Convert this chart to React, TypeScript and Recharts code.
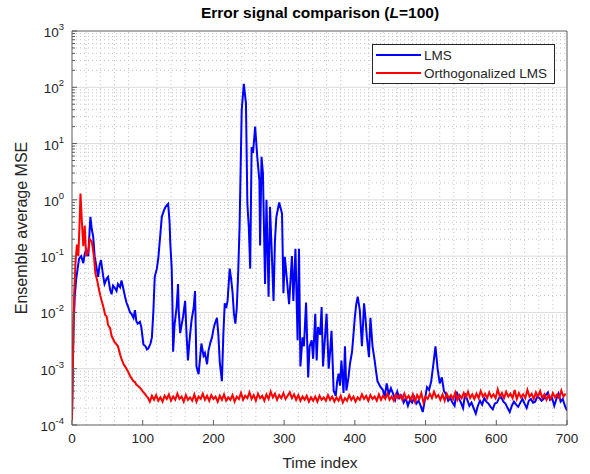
import React from 'react'
import { LineChart, Line, XAxis, YAxis, ReferenceLine } from 'recharts'

const W = 590
const H = 474
const AXIS = '#5c5c5c'
const TXT = '#262626'
const FONT = '"Liberation Sans", Arial, Helvetica, sans-serif'

// LMS: [time index, ensemble average MSE] up to t=440
const lmsPoints: [number, number][] = [
  [0, 1.5e-4], [2, 5e-3], [4, 0.02], [6, 0.04], [8, 0.06], [10, 0.09], [13, 0.1], [16, 0.075],
  [18, 0.11], [20, 0.13], [23, 0.1], [25, 0.3], [26, 0.5], [28, 0.3], [30, 0.22], [32, 0.1],
  [35, 0.06], [37, 0.043], [39, 0.07], [41, 0.085], [44, 0.045], [46, 0.032], [49, 0.04], [51, 0.043],
  [54, 0.025], [56, 0.021], [58, 0.03], [60, 0.028], [63, 0.024], [65, 0.032], [68, 0.028], [70, 0.037],
  [73, 0.025], [75, 0.019], [77, 0.015], [79, 0.013], [82, 0.01], [84, 0.0095], [87, 0.008], [89, 0.011],
  [91, 0.007], [93, 0.0063], [96, 0.0068], [98, 0.0055], [101, 0.0027], [104, 0.0025], [106, 0.0022],
  [108, 0.0023], [111, 0.0028], [113, 0.0036], [115, 0.01], [117, 0.043], [120, 0.06], [122, 0.09],
  [125, 0.25], [127, 0.5], [130, 0.65], [132, 0.74], [134, 0.8], [136, 0.85], [138, 0.4], [139, 0.17],
  [141, 0.06], [142, 0.015], [143, 0.002], [145, 0.006], [148, 0.0126], [150, 0.032], [151, 0.01],
  [153, 0.0043], [155, 0.006], [157, 0.0083], [160, 0.016], [162, 0.004], [164, 0.0014], [166, 0.003],
  [169, 0.0072], [172, 0.012], [174, 0.024], [176, 0.0011], [179, 0.0008], [181, 0.0015], [183, 0.0028],
  [186, 0.0017], [188, 0.0019], [191, 0.0012], [193, 0.0021], [196, 0.003], [198, 0.0036], [200, 0.005],
  [202, 0.0063], [205, 0.008], [207, 0.004], [209, 0.0013], [212, 0.0006], [214, 0.004], [216, 0.0145],
  [218, 0.012], [220, 0.016], [223, 0.06], [225, 0.04], [227, 0.023], [229, 0.0095], [231, 0.0063],
  [233, 0.012], [235, 0.05], [237, 0.35], [240, 40], [243, 115], [246, 52], [248, 0.85], [250, 0.33],
  [252, 0.06], [254, 8.7], [256, 6.8], [259, 20], [262, 5.8], [265, 2.2], [266, 0.155], [268, 5.8],
  [270, 3], [273, 0.032], [275, 1], [278, 0.019], [280, 0.75], [282, 0.17], [285, 0.016], [287, 0.19],
  [289, 0.5], [293, 0.9], [297, 0.57], [299, 0.022], [301, 0.097], [304, 0.037], [307, 0.014], [311, 0.1],
  [313, 0.016], [316, 0.135], [319, 0.0032], [321, 0.135], [323, 0.0011], [326, 0.0036], [328, 0.0025],
  [331, 0.015], [334, 0.0007], [336, 0.0025], [339, 0.0032], [341, 0.0015], [344, 0.0095], [346, 0.0014],
  [348, 0.0055], [351, 0.004], [353, 0.0125], [355, 0.0011], [358, 0.004], [360, 0.0095], [363, 0.001],
  [365, 0.002], [367, 0.0047], [370, 0.00041], [373, 0.00033], [375, 0.0006], [377, 0.00082], [379, 0.0005],
  [381, 0.0014], [384, 0.00037], [386, 0.0025], [388, 0.00041], [391, 0.0007], [393, 0.0012], [396, 0.002],
  [398, 0.004], [400, 0.0083], [402, 0.014], [404, 0.019], [407, 0.011], [410, 0.0025], [413, 0.0145],
  [415, 0.008], [417, 0.0036], [420, 0.0016], [422, 0.008], [425, 0.0025], [428, 0.0014], [430, 0.0009],
  [432, 0.0006], [436, 0.00048], [440, 0.00041],
]

// LMS steady-state samples (units of 1e-4), every 3rd index from t=442 to t=700
const lmsTailStart = 442
const lmsTailStep = 3
const lmsTailE4 = [
  3.0, 5.5, 3.5, 4.5, 3.6, 2.8, 3.9, 3.0, 3.3, 2.5,
  3.0, 2.2, 2.8, 2.5, 3.1, 2.4, 2.7, 2.2, 1.7, 2.8,
  4.7, 4.2, 6.0, 12, 25, 10, 5.5, 7.0, 4.0, 3.5,
  2.7, 3.0, 2.5, 2.2, 3.9, 3.0, 2.5, 2.0, 3.6, 2.8,
  2.2, 2.5, 2.0, 1.6, 2.2, 2.7, 2.3, 3.0, 2.6, 2.4,
  2.1, 1.9, 2.4, 2.5, 3.0, 3.1, 2.6, 2.4, 2.0, 1.7,
  2.2, 2.6, 2.3, 2.1, 2.5, 2.9, 2.4, 2.0, 2.7, 2.9,
  2.5, 2.6, 3.2, 3.0, 2.7, 2.9, 3.4, 3.8, 2.8, 3.0,
  2.2, 2.9, 3.6, 2.6, 2.9, 2.2, 1.8,
]

// Orthogonalized LMS: [time index, MSE] during convergence
const orthPoints: [number, number][] = [
  [0, 1.2e-4], [2, 0.004], [3, 0.02], [5, 0.08], [7, 0.16], [9, 0.1], [11, 0.5], [12, 1.3], [14, 0.4],
  [16, 0.15], [18, 0.35], [20, 0.1], [23, 0.12], [25, 0.2], [28, 0.18], [31, 0.1], [33, 0.05],
  [36, 0.035], [38, 0.026], [40, 0.02], [42, 0.016], [44, 0.013], [47, 0.009], [49, 0.0085], [51, 0.006],
  [54, 0.0052], [56, 0.0038], [58, 0.0034], [60, 0.003], [63, 0.0027], [65, 0.0025], [68, 0.0018],
  [70, 0.0015], [73, 0.0012], [75, 0.0011], [77, 0.001], [79, 0.0009], [82, 0.00075], [84, 0.00068],
  [87, 0.0006], [89, 0.00058], [91, 0.00052], [93, 0.0005], [96, 0.00046], [98, 0.00043], [101, 0.00038],
  [103, 0.00036], [105, 0.00033], [107, 0.00031],
]

// Orthogonalized LMS steady state (units of 1e-4), every 3rd index from t=110
const orthTailStart = 110
const orthTailStep = 3
const orthTailE4 = [
  2.6, 3.3, 2.8, 3.4, 2.7, 3.1, 2.6, 3.3, 2.9, 3.5,
  2.7, 3.2, 2.8, 3.6, 2.9, 3.2, 2.6, 3.4, 2.8, 3.1,
  2.7, 3.5, 2.6, 3.2, 2.9, 3.6, 2.8, 3.3, 2.7, 3.4,
  2.9, 3.2, 2.6, 3.3, 2.8, 3.5, 2.7, 3.1, 2.8, 3.4,
  2.6, 3.2, 2.9, 3.7, 2.8, 3.3, 3.0, 3.8, 2.9, 3.4,
  2.7, 3.6, 3.0, 3.3, 2.7, 3.5, 2.9, 3.9, 3.1, 3.6,
  2.8, 3.4, 3.0, 3.7, 2.9, 3.3, 3.8, 3.0, 3.5, 2.8,
  3.4, 2.7, 3.2, 2.8, 3.3, 2.6, 3.1, 2.7, 3.2, 2.6,
  3.3, 2.8, 3.1, 2.7, 3.4, 2.8, 3.2, 2.6, 3.1, 2.7,
  3.3, 2.5, 3.0, 2.7, 3.4, 2.8, 3.2, 2.6, 3.1, 2.8,
  3.5, 2.9, 3.3, 2.7, 3.4, 2.9, 3.2, 2.7, 3.5, 2.8,
  3.3, 2.9, 3.6, 2.8, 3.2, 2.7, 3.5, 3.0, 3.4, 2.8,
  3.6, 2.9, 3.3, 2.8, 3.5, 2.6, 3.4, 2.9, 3.7, 2.5,
  3.2, 2.9, 3.6, 3.0, 3.9, 3.1, 3.4, 2.8, 3.5, 2.7,
  3.6, 3.0, 3.4, 2.9, 3.8, 2.8, 3.4, 3.0, 3.7, 3.1,
  3.9, 3.0, 3.5, 2.9, 3.6, 3.0, 4.0, 3.2, 3.6, 3.0,
  3.8, 3.1, 3.5, 3.0, 4.3, 3.2, 3.7, 3.0, 3.9, 3.2,
  3.6, 3.0, 4.2, 2.9, 3.7, 3.1, 3.5, 3.0, 4.2, 3.2,
  3.6, 2.9, 3.8, 3.2, 4.0, 3.0, 3.5, 2.8, 3.4, 2.9,
  3.7, 3.1, 3.5, 3.0, 4.1, 3.2, 3.6,
]

const xTicks = [0, 100, 200, 300, 400, 500, 600, 700]
const yDecades = [1e-4, 1e-3, 1e-2, 1e-1, 1e0, 1e1, 1e2, 1e3]
const minorSteps = [2, 3, 4, 5, 6, 7, 8, 9]

const yMinor = yDecades.slice(0, -1).flatMap(d => minorSteps.map(m => m * d))
const yAllTicks = [...yDecades, ...yMinor].sort((a, b) => a - b)
const xMinor = Array.from({ length: 34 }, (_, i) => (i + 1) * 20).filter(v => v % 100 !== 0)

const lmsData = [
  ...lmsPoints.map(([t, v]) => ({ t, v })),
  ...lmsTailE4.map((v, i) => ({ t: lmsTailStart + i * lmsTailStep, v: v * 1e-4 })),
]
const orthData = [
  ...orthPoints.map(([t, v]) => ({ t, v })),
  ...orthTailE4.map((v, i) => ({ t: orthTailStart + i * orthTailStep, v: v * 1e-4 })),
]

const isDecade = (v: number) => Math.abs(Math.log10(v) - Math.round(Math.log10(v))) < 1e-6

function BottomTick({ x, y, payload }: any) {
  return (
    <g>
      <line x1={x} x2={x} y1={y} y2={y - 5} stroke={AXIS} />
      <text x={x} y={y + 18} textAnchor="middle" fontSize={13.5} fill={TXT} fontFamily={FONT}>
        {payload.value}
      </text>
    </g>
  )
}

function TopTick({ x, y }: any) {
  return <line x1={x} x2={x} y1={y} y2={y + 5} stroke={AXIS} />
}

function LeftTick({ x, y, payload }: any) {
  const v = payload.value
  const major = isDecade(v)
  return (
    <g>
      <line x1={x} x2={x + (major ? 5 : 3)} y1={y} y2={y} stroke={AXIS} />
      {major && (
        <text x={x - 8} y={y + 6} textAnchor="end" fontSize={13.5} fill={TXT} fontFamily={FONT}>
          10
          <tspan dy={-7} fontSize={9.5}>{Math.round(Math.log10(v))}</tspan>
        </text>
      )}
    </g>
  )
}

function RightTick({ x, y, payload }: any) {
  const major = isDecade(payload.value)
  return <line x1={x} x2={x - (major ? 5 : 3)} y1={y} y2={y} stroke={AXIS} />
}

export default function App() {
  return (
    <div style={{ position: 'absolute', left: 0, top: 0, width: W, height: H, background: '#fff', fontFamily: FONT }}>
      <LineChart width={W} height={H} margin={{ top: 30, right: 22, bottom: 19, left: 12 }}>
        <XAxis
          dataKey="t"
          type="number"
          domain={[0, 700]}
          ticks={xTicks}
          interval={0}
          allowDataOverflow
          height={30}
          tickSize={0}
          tickMargin={0}
          tick={BottomTick}
          axisLine={{ stroke: AXIS }}
        />
        <XAxis
          xAxisId="top"
          orientation="top"
          dataKey="t"
          type="number"
          domain={[0, 700]}
          ticks={xTicks}
          interval={0}
          height={1}
          tickSize={0}
          tickMargin={0}
          tick={TopTick}
          axisLine={{ stroke: AXIS }}
        />
        <YAxis
          scale="log"
          type="number"
          domain={[1e-4, 1e3]}
          ticks={yAllTicks}
          interval={0}
          allowDataOverflow
          width={60}
          tickSize={0}
          tickMargin={0}
          tick={LeftTick}
          axisLine={{ stroke: AXIS }}
        />
        <YAxis
          yAxisId="r"
          orientation="right"
          scale="log"
          type="number"
          domain={[1e-4, 1e3]}
          ticks={yAllTicks}
          interval={0}
          width={1}
          tickSize={0}
          tickMargin={0}
          tick={RightTick}
          axisLine={{ stroke: AXIS }}
        />
        {xMinor.map(v => (
          <ReferenceLine key={`xm${v}`} x={v} stroke="#c4c4c4" strokeDasharray="1 3" />
        ))}
        {yMinor.map(v => (
          <ReferenceLine key={`ym${v}`} y={v} stroke="#c4c4c4" strokeDasharray="1 3" />
        ))}
        {yDecades.slice(1, -1).map(v => (
          <ReferenceLine key={`yM${v}`} y={v} stroke="#dcdcdc" />
        ))}
        <Line data={lmsData} dataKey="v" stroke="#0000ff" strokeWidth={2} dot={false} isAnimationActive={false} />
        <Line data={orthData} dataKey="v" stroke="#ff0000" strokeWidth={2} dot={false} isAnimationActive={false} />
      </LineChart>
      <svg width={W} height={H} style={{ position: 'absolute', left: 0, top: 0, pointerEvents: 'none' }}>
        <text x={320} y={18} textAnchor="middle" fontSize={15.5} fontWeight="bold" fill="#000" fontFamily={FONT}>
          Error signal comparison (<tspan fontStyle="italic">L</tspan>=100)
        </text>
        <text x={320} y={468} textAnchor="middle" fontSize={15.5} fill={TXT} fontFamily={FONT}>
          Time index
        </text>
        <text
          x={0}
          y={0}
          transform="translate(27 228) rotate(-90)"
          textAnchor="middle"
          fontSize={16}
          fill={TXT}
          fontFamily={FONT}
        >
          Ensemble average MSE
        </text>
        <rect x={372.5} y={44.5} width={182} height={39} fill="#fff" stroke={TXT} />
        <line x1={376} x2={421} y1={55} y2={55} stroke="#0000ff" strokeWidth={2} />
        <line x1={376} x2={421} y1={73} y2={73} stroke="#ff0000" strokeWidth={2} />
        <text x={424} y={59.5} fontSize={13.5} fill={TXT} fontFamily={FONT}>LMS</text>
        <text x={424} y={77.5} fontSize={13.5} fill={TXT} fontFamily={FONT}>Orthogonalized LMS</text>
      </svg>
    </div>
  )
}
